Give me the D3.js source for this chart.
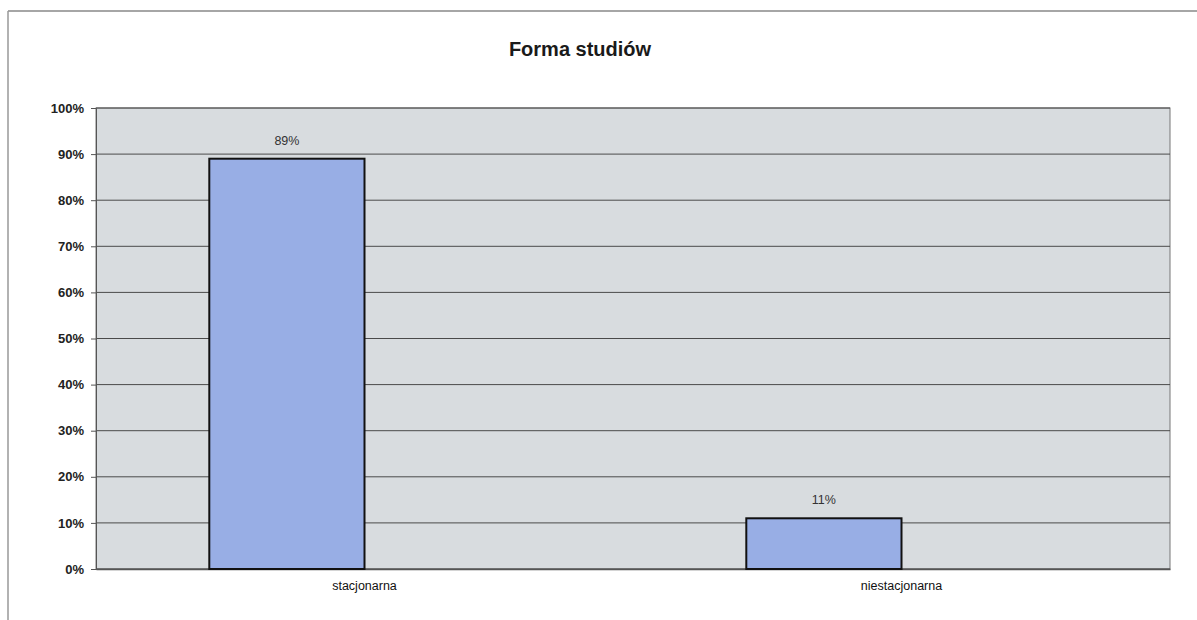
<!DOCTYPE html>
<html>
<head>
<meta charset="utf-8">
<script src="https://cdn.jsdelivr.net/npm/d3@7/dist/d3.min.js"></script>
<style>
  body { margin: 0; background: #fff; }
  svg { display: block; font-family: Arial, "Liberation Sans", sans-serif; }
</style>
</head>
<body>
<div id="chart"></div>
<script>
// chart data
const title = "Forma studiów";
const categories = ["stacjonarna", "niestacjonarna"];
const values = [0.89, 0.11];
const valueLabels = ["89%", "11%"];
const yTicks = [0, 0.1, 0.2, 0.3, 0.4, 0.5, 0.6, 0.7, 0.8, 0.9, 1.0];
// Excel reserves a second (empty) series slot next to each bar
const seriesSlots = ["s1", "s2"];

// SVG dimensions
const width = 1197;
const height = 620;

// plot area
const plotLeft = 96;
const plotRight = 1170;
const plotTop = 108;
const plotBottom = 569;

const svg = d3.select("#chart")
    .append("svg")
    .attr("width", width)
    .attr("height", height);

// outer chart frame (only top and left edges are visible in the scan)
svg.append("line")
    .attr("x1", 8).attr("y1", 11).attr("x2", width).attr("y2", 11)
    .attr("stroke", "#888").attr("stroke-width", 1.5);
svg.append("line")
    .attr("x1", 8).attr("y1", 11).attr("x2", 8).attr("y2", height)
    .attr("stroke", "#999").attr("stroke-width", 1.5);

// scales
const x = d3.scaleBand()
    .domain(categories)
    .range([plotLeft, plotRight])
    .padding(0);

const xSlot = d3.scaleBand()
    .domain(seriesSlots)
    .range([0, x.bandwidth()])
    .paddingInner(0)
    .paddingOuter(0.73);

const y = d3.scaleLinear()
    .domain([0, 1])
    .range([plotBottom, plotTop]);

// plot background
svg.append("rect")
    .attr("x", plotLeft)
    .attr("y", plotTop)
    .attr("width", plotRight - plotLeft)
    .attr("height", plotBottom - plotTop)
    .attr("fill", "#d8dcdf")
    .attr("stroke", "#777")
    .attr("stroke-width", 1);

// gridlines
svg.append("g")
    .attr("class", "grid")
    .selectAll("line")
    .data(yTicks)
    .enter().append("line")
    .attr("x1", plotLeft)
    .attr("x2", plotRight)
    .attr("y1", d => y(d))
    .attr("y2", d => y(d))
    .attr("stroke", "#4a4a4a")
    .attr("stroke-width", 1);

// y axis
const yAxis = svg.append("g")
    .attr("transform", `translate(${plotLeft},0)`)
    .call(d3.axisLeft(y)
        .tickValues(yTicks)
        .tickFormat(d3.format(".0%"))
        .tickSize(5)
        .tickPadding(7));
yAxis.select(".domain").attr("stroke", "#555");
yAxis.selectAll(".tick line").attr("stroke", "#555");
yAxis.selectAll("text")
    .attr("font-size", 13)
    .attr("font-weight", "bold")
    .attr("fill", "#222");

// x axis
const xAxis = svg.append("g")
    .attr("transform", `translate(0,${plotBottom})`)
    .call(d3.axisBottom(x).tickSize(0).tickPadding(12));
xAxis.select(".domain").attr("stroke", "#555").attr("stroke-width", 1.5);
xAxis.selectAll("text")
    .attr("font-size", 12.5)
    .attr("fill", "#111");

// bars
svg.append("g")
    .attr("class", "bars")
    .selectAll("rect")
    .data(categories)
    .enter().append("rect")
    .attr("x", d => x(d) + xSlot("s1"))
    .attr("y", (d, i) => y(values[i]))
    .attr("width", xSlot.bandwidth())
    .attr("height", (d, i) => plotBottom - y(values[i]))
    .attr("fill", "#98aee5")
    .attr("stroke", "#111")
    .attr("stroke-width", 2);

// value labels
svg.append("g")
    .attr("class", "labels")
    .selectAll("text")
    .data(categories)
    .enter().append("text")
    .attr("x", d => x(d) + xSlot("s1") + xSlot.bandwidth() / 2)
    .attr("y", (d, i) => y(values[i]) - 14)
    .attr("text-anchor", "middle")
    .attr("font-size", 12.5)
    .attr("fill", "#333")
    .text((d, i) => valueLabels[i]);

// title
svg.append("text")
    .attr("x", 580)
    .attr("y", 56)
    .attr("text-anchor", "middle")
    .attr("font-size", 20)
    .attr("font-weight", "bold")
    .attr("fill", "#1a1a1a")
    .text(title);
</script>
</body>
</html>
